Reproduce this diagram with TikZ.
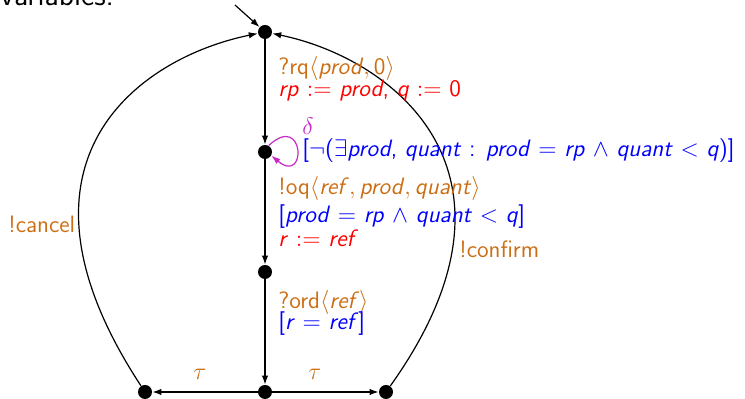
\documentclass[tikz,border=0pt]{standalone}
\usetikzlibrary{arrows.meta}
\definecolor{lblorange}{RGB}{204,110,20}
\definecolor{lblred}{RGB}{255,0,0}
\definecolor{lblblue}{RGB}{0,0,255}
\definecolor{loopmag}{RGB}{200,40,200}
\newcommand\mv[1]{\textit{#1}}
\begin{document}
\begin{tikzpicture}[x=0.5pt,y=0.5pt,
  state/.style={circle,fill=black,draw=none,inner sep=0pt,minimum size=7pt},
  trans/.style={line width=0.6pt,-{Latex[length=4.5pt,width=3.2pt]}},
  lbl/.style={anchor=base west,inner sep=0pt,font=\sffamily\fontsize{11.85}{12}\selectfont},
  act/.style={lbl,text=lblorange},
  asg/.style={lbl,text=lblred},
  grd/.style={lbl,text=lblblue}]
\useasboundingbox (0,0) rectangle (745,399);
\node[anchor=base west,inner sep=0pt,font=\sffamily\fontsize{15.2}{16}\selectfont] (hdr) at (0,393) {variables.};
\node[state] (s0) at (265,367) {};
\node[state] (s1) at (265,247) {};
\node[state] (s2) at (265,127) {};
\node[state] (bm) at (265,7) {};
\node[state] (bl) at (145,7) {};
\node[state] (br) at (386,7) {};
\coordinate (init) at (235,394);
\draw[trans] (init) -- (s0);
\draw[trans] (s0) -- (s1);
\draw[trans] (s1) -- (s2);
\draw[trans] (s2) -- (bm);
\draw[trans] (bm) -- (bl);
\draw[trans] (bm) -- (br);
\draw[trans] (bl) .. controls (-6,237) and (138,341) .. (s0);
\draw[trans] (br) .. controls (543,227) and (392,341) .. (s0);
\draw[trans,loopmag] (s1.60) .. controls +(36,34) and +(36,-30) .. (s1.-30);
\node[lbl,text=loopmag] (dl) at (302,264) {$\delta$};
\node[act] (l1) at (278,324) {?rq$\langle$\mv{prod}$,\,$0$\rangle$};
\node[asg] (l2) at (278,302) {\mv{rp} $:=$ \mv{prod}, \mv{q} $:=$ 0};
\node[grd] (l3) at (302,242) {[$\neg$($\exists$\mv{prod}, \mv{quant} : \mv{prod} $=$ \mv{rp} $\wedge$ \mv{quant} $<$ \mv{q})]};
\node[act] (l4) at (278,204) {!oq$\langle$\mv{ref}$,\,$\mv{prod}$,\,$\mv{quant}$\rangle$};
\node[grd] (l5) at (278,176) {[\mv{prod} $=$ \mv{rp} $\wedge$ \mv{quant} $<$ \mv{q}]};
\node[asg] (l6) at (278,152) {\mv{r} $:=$ \mv{ref}};
\node[act] (l7) at (459,141) {!confirm};
\node[act] (l8) at (8,166) {!cancel};
\node[act] (l9) at (278,90) {?ord$\langle$\mv{ref}$\rangle$};
\node[grd] (l10) at (278,69) {[\mv{r} $=$ \mv{ref}]};
\node[act] (t1) at (193,19) {$\tau$};
\node[act] (t2) at (308,19) {$\tau$};
\end{tikzpicture}
\end{document}
